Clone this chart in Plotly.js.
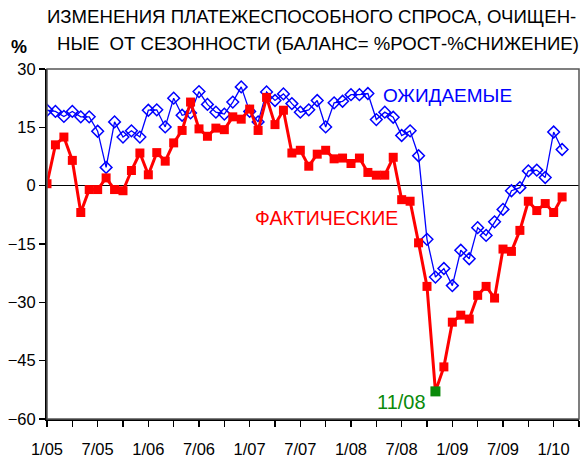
<!DOCTYPE html>
<html>
<head>
<meta charset="utf-8">
<script src="https://cdn.plot.ly/plotly-3.0.1.min.js"></script>
<style>
  html, body { margin: 0; padding: 0; background: #fff; }
  #chart { width: 588px; height: 463px; }
</style>
</head>
<body>
<div id="chart"></div>
<script>
// monthly values, Jan 2005 .. Feb 2010
const actual = [
  0.5, 10.5, 12.5, 6.5, -6.9, -1, -1, 2, -1, -1.3, 3.9, 8.4,
  2.8, 8.5, 6.3, 11, 14.2, 21.5, 14.6, 12.7, 14.8, 14.4, 17.7, 17.1,
  19.7, 14.2, 22.7, 15.7, 19.4, 8.4, 9.1, 5, 8.1, 9.1, 6.9, 7.1,
  5.7, 7.1, 3.4, 2.7, 2.7, 7.3, -3.6, -4, -14.7, -25.9, -52.9, -46.6,
  -35.1, -33.3, -34.3, -28.2, -25.9, -28.9, -16.3, -16.9, -11.5, -4, -6.4, -4.6,
  -6.9, -2.9
];
const expected = [
  19.4, 19.1, 17.8, 19.1, 17.7, 17.7, 14, 4.7, 16.4, 12.5, 14.1, 12.5,
  19.4, 19.5, 15.1, 22.5, 18.1, 18.7, 24.2, 20.9, 18.9, 18.4, 21.5, 25.4,
  19.1, 16.4, 24.1, 21.9, 23.6, 21.1, 18.9, 19.5, 21.9, 15.1, 21.3, 21.7,
  23.4, 23.4, 23.7, 17, 18.9, 17.6, 12.9, 14.1, 7.7, -13.8, -23.5, -21.3,
  -25.7, -16.6, -18.8, -10.8, -12.8, -9.3, -6.1, -1.3, -0.5, 3.8, 4, 2.1,
  13.8, 9.3
];
const lowIndex = 46; // 11/08

const tickVals = [0, 3, 6, 9, 12, 15, 18, 21, 24, 27, 30, 33, 36, 39, 42, 45, 48, 51, 54, 57, 60, 63];
const tickText = ['1/05', '', '7/05', '', '1/06', '', '7/06', '', '1/07', '', '7/07', '',
                  '1/08', '', '7/08', '', '1/09', '', '7/09', '', '1/10', ''];
const yTicks = [-60, -45, -30, -15, 0, 15, 30];

const months = actual.map((_, i) => i);
const FONT = 'Liberation Sans, Arial, sans-serif';

const traces = [
  {
    x: months, y: expected, type: 'scatter', mode: 'lines+markers',
    line: { color: '#0000ff', width: 1.3 },
    marker: { symbol: 'diamond-open', size: 9, color: '#0000ff', line: { width: 1.5, color: '#0000ff' } },
  },
  {
    x: months, y: actual, type: 'scatter', mode: 'lines+markers',
    line: { color: '#ff0000', width: 3 },
    marker: { symbol: 'square', size: 9, color: '#ff0000' },
  },
  {
    x: [months[lowIndex]], y: [actual[lowIndex]], type: 'scatter', mode: 'markers',
    marker: { symbol: 'square', size: 10, color: '#0a8a0a' },
  },
];

const axisCommon = {
  range: [0, 63],
  showgrid: false,
  zeroline: false,
};

const layout = {
  width: 588,
  height: 463,
  margin: { l: 47, r: 9, t: 69, b: 44 },
  paper_bgcolor: '#fff',
  plot_bgcolor: '#fff',
  showlegend: false,
  font: { family: FONT, size: 16, color: '#000' },
  xaxis: {
    ...axisCommon,
    tickmode: 'array',
    tickvals: tickVals,
    ticktext: tickText,
    ticks: 'outside',
    ticklen: 6,
    tickwidth: 1.2,
    tickcolor: '#000',
    ticklabelstandoff: 8,
    showline: true,
    linecolor: '#000',
    linewidth: 2,
    tickfont: { family: FONT, size: 16.5 },
  },
  xaxis2: {
    ...axisCommon,
    overlaying: 'x',
    anchor: 'y',
    side: 'bottom',
    tickmode: 'array',
    tickvals: tickVals,
    showticklabels: false,
    ticks: 'inside',
    ticklen: 5,
    tickwidth: 1.2,
    tickcolor: '#000',
  },
  yaxis: {
    range: [-60, 30],
    tickmode: 'array',
    tickvals: yTicks,
    ticks: 'outside',
    ticklen: 6,
    tickwidth: 1.2,
    tickcolor: '#000',
    showgrid: false,
    zeroline: true,
    zerolinecolor: '#000',
    zerolinewidth: 1,
    showline: true,
    linecolor: '#000',
    linewidth: 2,
    tickfont: { family: FONT, size: 16.5 },
  },
  yaxis2: {
    range: [-60, 30],
    overlaying: 'y',
    anchor: 'x',
    side: 'left',
    tickmode: 'array',
    tickvals: yTicks,
    showticklabels: false,
    ticks: 'inside',
    ticklen: 6,
    tickwidth: 1.2,
    tickcolor: '#000',
    showgrid: false,
    zeroline: false,
  },
  shapes: [
    { type: 'rect', xref: 'paper', yref: 'paper', x0: 0, x1: 1, y0: 0, y1: 1,
      line: { color: '#555', width: 1.5 } },
  ],
  annotations: [
    { text: 'ИЗМЕНЕНИЯ ПЛАТЕЖЕСПОСОБНОГО СПРОСА, ОЧИЩЕН-', xref: 'paper', yref: 'paper',
      x: 0.498, y: 1.149, yanchor: 'middle', showarrow: false, font: { size: 18.6, family: FONT } },
    { text: 'НЫЕ  ОТ СЕЗОННОСТИ (БАЛАНС= %РОСТ-%СНИЖЕНИЕ)', xref: 'paper', yref: 'paper',
      x: 0.509, y: 1.072, yanchor: 'middle', showarrow: false, font: { size: 18.6, family: FONT } },
    { text: '<b>%</b>', xref: 'paper', yref: 'paper', x: -0.072, y: 1.064, yanchor: 'middle',
      showarrow: false, font: { size: 18, family: FONT } },
    { text: 'ОЖИДАЕМЫЕ', x: 47.4, y: 23.1, showarrow: false,
      font: { size: 19, family: FONT, color: '#0000ff' } },
    { text: 'ФАКТИЧЕСКИЕ', x: 33.1, y: -8.2, showarrow: false,
      font: { size: 19.5, family: FONT, color: '#ff0000' } },
    { text: '11/08', x: 45.1, y: -55.5, xanchor: 'right', showarrow: false,
      font: { size: 20, family: FONT, color: '#0a8a0a' } },
  ],
};

Plotly.newPlot('chart', traces, layout, { displayModeBar: false, staticPlot: true });
</script>
</body>
</html>
